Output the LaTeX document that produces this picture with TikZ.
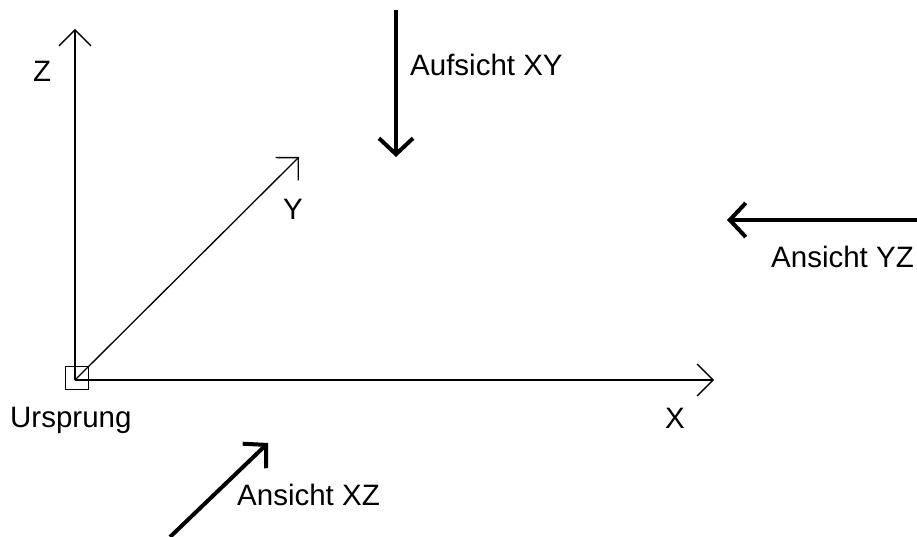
\documentclass[tikz,border=0pt]{standalone}
\usepackage{fontspec}
\setmainfont{Liberation Sans}
\usetikzlibrary{arrows.meta}

\tikzset{
  achse/.style={line width=1.3pt, -{Straight Barb[length=16pt,width=32pt]}},
  blick/.style={line width=4pt, -{Straight Barb[length=16pt,width=34pt]}},
  beschr/.style={font=\fontsize{29.5}{32}\selectfont, inner sep=0pt, anchor=base west},
}

\begin{document}
\begin{tikzpicture}[x=1pt, y=-1pt]
  \useasboundingbox (0,0) rectangle (917,537);

  \coordinate (O) at (75,380);
  \coordinate (X) at (714,380);
  \coordinate (Y) at (299,157);
  \coordinate (Z) at (75,29);

  % Achsen
  \node[draw, line width=1.6pt, minimum size=23pt, inner sep=0pt] (quadrat) at (77,378) {};
  \draw[achse] (O)--(X);
  \draw[achse] (O)--(Y);
  \draw[achse] (O)--(Z);

  % Blickrichtungen
  \coordinate (xyA) at (396,10);
  \coordinate (xyB) at (396,157);
  \coordinate (yzA) at (917,220);
  \coordinate (yzB) at (727,220);
  \coordinate (xzA) at (170,537);
  \coordinate (xzB) at (268,443);

  \draw[blick] (xyA)--(xyB);
  \draw[blick] (yzA)--(yzB);
  \draw[blick] (xzA)--(xzB);

  \node[beschr] (lz) at (33,82) {Z};
  \node[beschr] (ly) at (283,220) {Y};
  \node[beschr] (lx) at (665,428) {X};
  \node[beschr] (lu) at (10,427) {Ursprung};
  \node[beschr] (lxy) at (410,76) {Aufsicht XY};
  \node[beschr] (lyz) at (771,267) {Ansicht YZ};
  \node[beschr] (lxz) at (237,505) {Ansicht XZ};
\end{tikzpicture}
\end{document}
